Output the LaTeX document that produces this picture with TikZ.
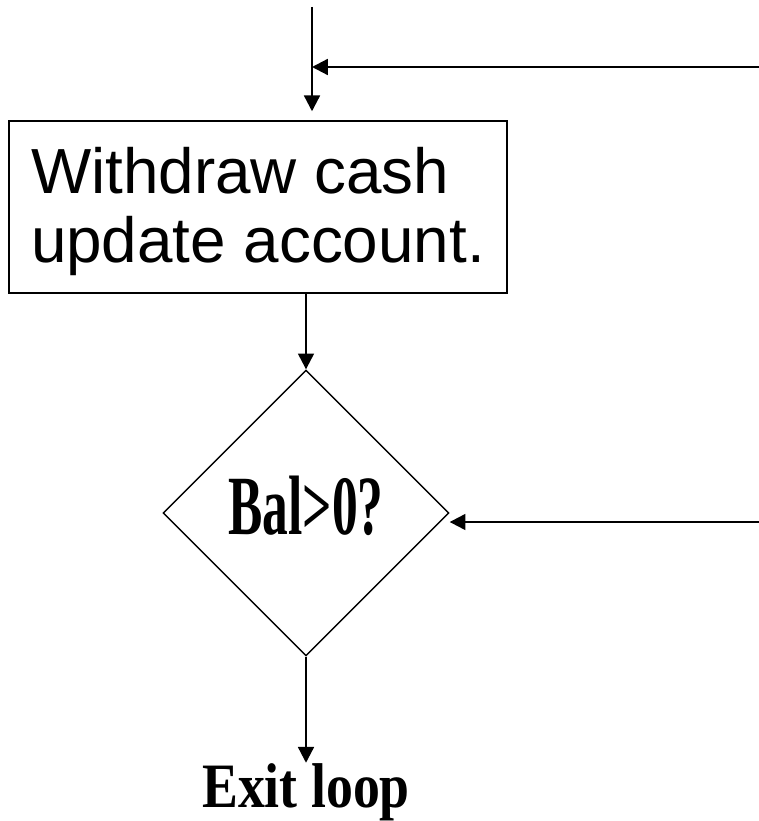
\documentclass[tikz,border=0pt]{standalone}
\usepackage{fontspec}
\setmainfont{Liberation Serif}
\setsansfont{Liberation Sans}
\usepackage{graphicx}
\usetikzlibrary{arrows.meta,shapes.geometric,positioning}

\tikzset{flow/.style={-{Triangle[length=9pt,width=9pt]},line width=1.3pt}}

\begin{document}
\begin{tikzpicture}[x=0.02cm,y=-0.02cm]
        \useasboundingbox (0,0) rectangle (759,821);
        \node[draw,line width=1.1pt,minimum width=9.96cm,minimum height=3.44cm,inner sep=0,text height=63.7pt,text depth=0pt,font=\sffamily\fontsize{36.3}{39.3}\selectfont] (task) at (258,207)
          {\parbox[b]{9.08cm}{Withdraw cash\\update account.}};
        \node[draw,diamond,line width=0.8pt,minimum width=5.72cm,minimum height=5.72cm,inner sep=0,text height=25pt,text depth=0pt,font=\bfseries\fontsize{48}{48}\selectfont] (test) at (306,513) {\scalebox{0.61}[1]{Bal>0?}};
        \node[anchor=base,inner sep=0,font=\bfseries\fontsize{36}{36}\selectfont] (exit) at (306,807) {\scalebox{0.85}[1]{Exit loop}};

        \coordinate (start) at (312,7);
        \coordinate (join) at (312,67);
        \coordinate (back1) at (759,67);
        \coordinate (back2) at (759,522);

        \draw[flow,shorten >=5pt] (start) -- (start |- task.north);
        \draw[flow] (back1) -- (join);
        \draw[flow] (task.south -| test.north) -- (test.north);
        \draw[flow] (back2) -- (back2 -| test.east);
        \draw[flow] (test.south) -- (exit.north);
      \end{tikzpicture}
\end{document}
